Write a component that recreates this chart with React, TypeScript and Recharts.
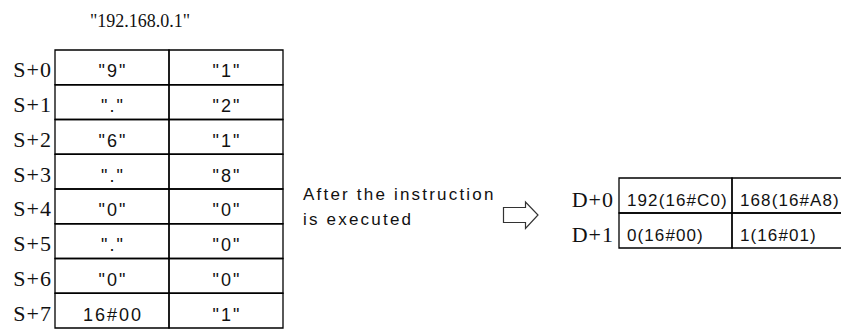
import { ReferenceArea, ScatterChart, XAxis, YAxis } from "recharts";

// source string and its characters, two per register
const sourceText = '"192.168.0.1"';
const sRows = ["S+0", "S+1", "S+2", "S+3", "S+4", "S+5", "S+6", "S+7"];
const sLow = ['"9"', '"."', '"6"', '"."', '"0"', '"."', '"0"', "16#00"];
const sHigh = ['"1"', '"2"', '"1"', '"8"', '"0"', '"0"', '"0"', '"1"'];

// result registers
const dRows = ["D+0", "D+1"];
const dLow = ["192(16#C0)", "0(16#00)"];
const dHigh = ["168(16#A8)", "1(16#01)"];

const captionLines = ["After the instruction", "is executed"];

const serif = "'Liberation Serif', 'DejaVu Serif', serif";
const sans = "'Liberation Sans', Arial, sans-serif";

function cellLabel(text: string, align: "middle" | "left", size: number, spacing: number) {
  return (props: any) => {
    const vb = props.viewBox;
    if (!vb) return null;
    const x = align === "middle" ? vb.x + vb.width / 2 + spacing / 2 : vb.x + 8;
    return (
      <text
        x={x}
        y={vb.y + vb.height / 2 + 10}
        textAnchor={align === "middle" ? "middle" : "start"}
        fontFamily={sans}
        fontSize={size}
        letterSpacing={spacing}
        fill="#111"
      >
        {text}
      </text>
    );
  };
}

function rowTick(labels: string[], dy: number) {
  return (props: any) => {
    const { x, y, payload } = props;
    return (
      <text
        x={x}
        y={y + dy}
        textAnchor="end"
        fontFamily={serif}
        fontSize={22}
        letterSpacing={1}
        fill="#111"
      >
        {labels[Math.floor(payload.value)]}
      </text>
    );
  };
}

function SourceTable() {
  const rows = sRows.map((name, i) => ({ name, low: sLow[i], high: sHigh[i] }));
  return (
    <ScatterChart
      width={290}
      height={331}
      data={rows}
      margin={{ top: 50, right: 7, bottom: 3, left: 0 }}
    >
      <XAxis type="number" dataKey="x" domain={[0, 2]} allowDataOverflow hide />
      <YAxis
        type="number"
        domain={[0, sRows.length]}
        allowDataOverflow
        reversed
        width={55}
        ticks={sRows.map((_, i) => i + 0.5)}
        interval={0}
        axisLine={false}
        tickLine={false}
        tickSize={1}
        tickMargin={2}
        tick={rowTick(sRows, 10)}
      />
      {rows.map((r, i) => (
        <ReferenceArea
          key={`lo${i}`}
          x1={0}
          x2={1}
          y1={i}
          y2={i + 1}
          fill="none"
          stroke="#000"
          strokeWidth={1.3}
          label={cellLabel(r.low, "middle", 18, 2)}
        />
      ))}
      {rows.map((r, i) => (
        <ReferenceArea
          key={`hi${i}`}
          x1={1}
          x2={2}
          y1={i}
          y2={i + 1}
          fill="none"
          stroke="#000"
          strokeWidth={1.3}
          label={cellLabel(r.high, "middle", 18, 2)}
        />
      ))}
    </ScatterChart>
  );
}

function ResultTable() {
  const rows = dRows.map((name, i) => ({ name, low: dLow[i], high: dHigh[i] }));
  return (
    <ScatterChart
      width={290}
      height={331}
      data={rows}
      margin={{ top: 178, right: 5, bottom: 83, left: 0 }}
    >
      <XAxis type="number" dataKey="x" domain={[0, 2]} allowDataOverflow hide />
      <YAxis
        type="number"
        domain={[0, dRows.length]}
        allowDataOverflow
        reversed
        width={59}
        ticks={dRows.map((_, i) => i + 0.5)}
        interval={0}
        axisLine={false}
        tickLine={false}
        tickSize={3}
        tickMargin={2}
        tick={rowTick(dRows, 11)}
      />
      {rows.map((r, i) => (
        <ReferenceArea
          key={`lo${i}`}
          x1={0}
          x2={1}
          y1={i}
          y2={i + 1}
          fill="none"
          stroke="#000"
          strokeWidth={1.3}
          label={cellLabel(r.low, "left", 17, 1.1)}
        />
      ))}
      {rows.map((r, i) => (
        <ReferenceArea
          key={`hi${i}`}
          x1={1}
          x2={2}
          y1={i}
          y2={i + 1}
          fill="none"
          stroke="#000"
          strokeWidth={1.3}
          label={cellLabel(r.high, "left", 17, 1.1)}
        />
      ))}
    </ScatterChart>
  );
}

export default function App() {
  return (
    <div
      style={{
        position: "absolute",
        left: 0,
        top: 0,
        width: 841,
        height: 331,
        overflow: "hidden",
        background: "#fff",
      }}
    >
      <div style={{ position: "absolute", left: 0, top: 0 }}>
        <SourceTable />
      </div>
      <div style={{ position: "absolute", left: 560, top: 0 }}>
        <ResultTable />
      </div>
      <svg
        width={841}
        height={331}
        style={{ position: "absolute", left: 0, top: 0, pointerEvents: "none" }}
      >
        <text x={90} y={27} fontFamily={serif} fontSize={18} fill="#111">
          {sourceText}
        </text>
        {captionLines.map((line, i) => (
          <text
            key={line}
            x={303}
            y={200 + i * 25}
            fontFamily={sans}
            fontSize={17}
            letterSpacing={2.2}
            fill="#111"
          >
            {line}
          </text>
        ))}
        <path
          d="M503.5 207.5 H525.5 V202 L538 215 L525.5 228.5 V222.5 H503.5 Z"
          fill="none"
          stroke="#333"
          strokeWidth={1.2}
        />
      </svg>
    </div>
  );
}
